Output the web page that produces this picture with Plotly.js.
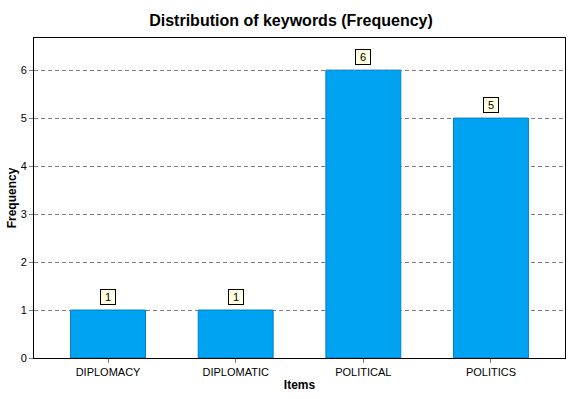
<!DOCTYPE html>
<html>
<head>
<meta charset="utf-8">
<script src="https://cdn.plot.ly/plotly-3.0.1.min.js"></script>
<style>html,body{margin:0;padding:0;background:#fff;}#chart{width:582px;height:399px;}</style>
</head>
<body>
<div id="chart"></div>
<script>
const categories = ["DIPLOMACY", "DIPLOMATIC", "POLITICAL", "POLITICS"];
const frequencies = [1, 1, 6, 5];
const yTicks = [0, 1, 2, 3, 4, 5, 6];

const font = "Liberation Sans, Arial, sans-serif";

const trace = {
  type: "bar",
  x: categories,
  y: frequencies,
  width: 0.587,
  marker: { color: "#00a2f2", line: { color: "#0080c8", width: 1 } },
  hoverinfo: "x+y"
};

const annotations = categories.map((c, i) => ({
  x: c, y: frequencies[i], xref: "x", yref: "y",
  text: String(frequencies[i]),
  showarrow: false, yanchor: "bottom", yshift: 5,
  width: 12, height: 12, align: "center",
  bgcolor: "#ffffe1", bordercolor: "#000", borderwidth: 1, borderpad: 1,
  font: { family: font, size: 11, color: "#000" }
}));

const layout = {
  width: 582, height: 399,
  margin: { l: 34, r: 17, t: 38, b: 41 },
  paper_bgcolor: "#fff", plot_bgcolor: "#fff",
  title: { text: "<b>Distribution of keywords (Frequency)</b>", x: 0.5, xanchor: "center", y: 0.95, yanchor: "middle", yref: "container",
    font: { family: font, size: 16, color: "#000" } },
  xaxis: {
    range: [-0.58, 3.58],
    showline: true, linecolor: "#000", linewidth: 1, mirror: true,
    ticks: "outside", ticklen: 4, tickcolor: "#808080",
    tickfont: { family: font, size: 11, color: "#000" },
    title: { text: "<b>Items</b>", font: { family: font, size: 12, color: "#000" }, standoff: 3 },
    showgrid: false, zeroline: false, fixedrange: true
  },
  yaxis: {
    range: [0, 6.67],
    tickvals: yTicks,
    showline: true, linecolor: "#000", linewidth: 1, mirror: true,
    ticks: "outside", ticklen: 4, tickcolor: "#808080",
    tickfont: { family: font, size: 11, color: "#000" },
    title: { text: "<b>Frequency</b>", font: { family: font, size: 12, color: "#000" }, standoff: 1 },
    showgrid: true, gridcolor: "#808080", griddash: "4px,3px", gridwidth: 1,
    zeroline: false, fixedrange: true
  },
  annotations: annotations,
  showlegend: false,
  bargap: 0.4
};

Plotly.newPlot("chart", [trace], layout, { displayModeBar: false, staticPlot: true });
</script>
</body>
</html>
